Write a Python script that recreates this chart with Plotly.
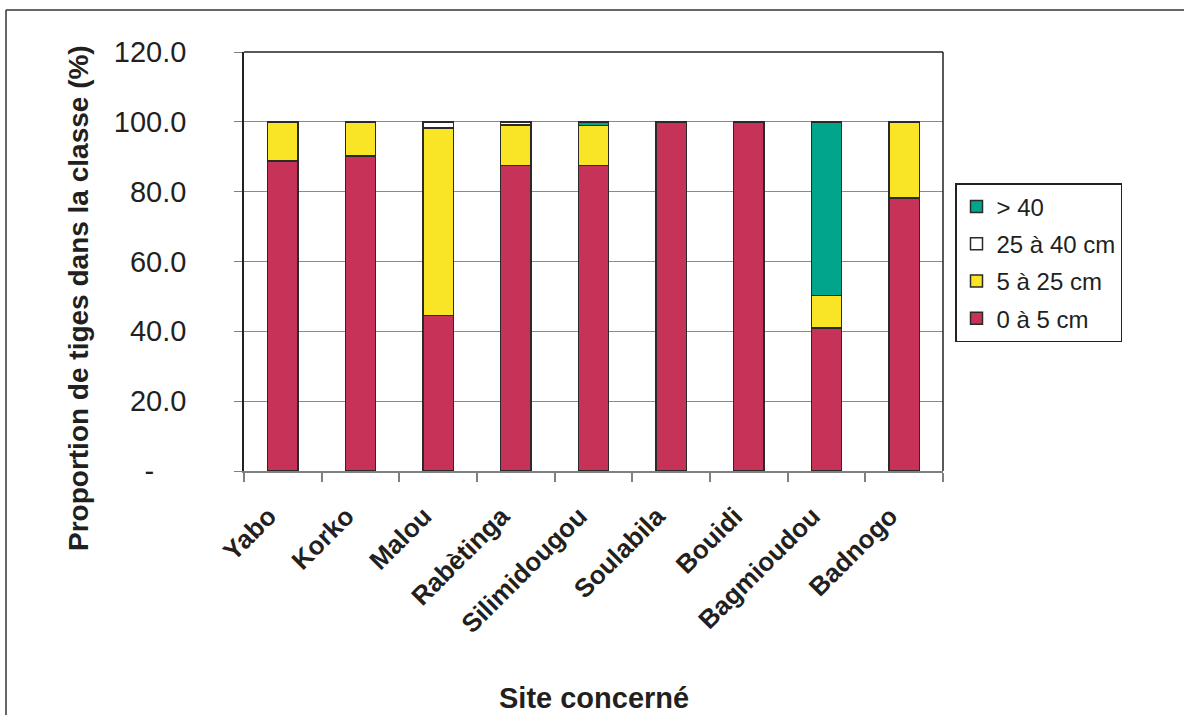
import plotly.graph_objects as go

# Sites and share of stems per diameter class (%)
sites = ["Yabo", "Korko", "Malou", "Rabètinga", "Silimidougou",
         "Soulabila", "Bouidi", "Bagmioudou", "Badnogo"]
class_0_5 = [88.8, 90.2, 44.5, 87.5, 87.5, 100.0, 100.0, 41.0, 78.2]
class_5_25 = [11.2, 9.8, 53.8, 11.6, 11.5, 0.0, 0.0, 9.3, 21.8]
class_25_40 = [0.0, 0.0, 1.7, 0.9, 0.0, 0.0, 0.0, 0.0, 0.0]
class_gt_40 = [0.0, 0.0, 0.0, 0.0, 1.0, 0.0, 0.0, 49.7, 0.0]

series_names = ["0 à 5 cm", "5 à 25 cm", "25 à 40 cm", "> 40"]
series_values = [class_0_5, class_5_25, class_25_40, class_gt_40]
series_colors = ["#C63258", "#F9E526", "#FFFFFF", "#00A58C"]

y_tickvals = [0, 20, 40, 60, 80, 100, 120]
y_ticktext = ["-\u00a0\u00a0\u00a0\u00a0", "20.0", "40.0", "60.0", "80.0", "100.0", "120.0"]

TXT = "#231F20"
FONT = "Liberation Sans, Arial, Helvetica, sans-serif"

W, H = 1184, 715
L, R, T, B = 244, 943, 52, 471   # plot area in pixels


def px_x(x):
    return (x - L) / (R - L)


def px_y(y):
    return (B - y) / (B - T)


fig = go.Figure()
n = len(series_names)
for i, (name, vals, col) in enumerate(zip(series_names, series_values, series_colors)):
    fig.add_trace(go.Bar(
        x=sites,
        y=[v if v > 0 else None for v in vals],
        name=name,
        legendgroup=f"g{i}",
        legendrank=n - i,
        marker=dict(color=col, line=dict(color="#2a2a2a", width=1.5)),
    ))

fig.update_layout(
    width=W, height=H,
    barmode="stack",
    bargap=0.61,
    plot_bgcolor="white",
    paper_bgcolor="white",
    margin=dict(l=L, r=W - R, t=T, b=H - B, autoexpand=False),
    font=dict(family=FONT, color=TXT),
    legend=dict(
        x=px_x(955), y=px_y(183), xanchor="left", yanchor="top",
        traceorder="grouped", tracegroupgap=3,
        bordercolor="#222222", borderwidth=1.5,
        font=dict(size=24, family=FONT, color=TXT),
        bgcolor="white",
    ),
    xaxis=dict(
        type="category",
        showline=True, linecolor="#808080", linewidth=1.5,
        ticks="outside", tickson="boundaries", ticklen=9, tickcolor="#808080", tickwidth=1.5,
        tickangle=-45,
        ticklabelstandoff=18, ticklabelshift=-14,
        tickfont=dict(size=26, family=FONT, color=TXT, weight="bold"),
        showgrid=False,
    ),
    yaxis=dict(
        range=[0, 120],
        tickvals=y_tickvals, ticktext=y_ticktext,
        showline=True, linecolor="#222222", linewidth=1.5,
        ticks="outside", ticklen=8, tickcolor="#808080", tickwidth=1,
        ticklabelstandoff=42,
        tickfont=dict(size=29, family=FONT, color=TXT),
        showgrid=True, gridcolor="#8a8a8a", gridwidth=1,
        zeroline=False,
    ),
    annotations=[
        dict(text="<b>Proportion de tiges dans la classe (%)</b>",
             xref="paper", yref="paper", x=px_x(78), y=px_y(298),
             xanchor="center", yanchor="middle", textangle=-90, showarrow=False,
             font=dict(size=28, family=FONT, color=TXT)),
        dict(text="<b>Site concerné</b>",
             xref="paper", yref="paper", x=px_x(594), y=px_y(698),
             xanchor="center", yanchor="middle", showarrow=False,
             font=dict(size=29, family=FONT, color=TXT)),
    ],
    shapes=[
        # plot-area border (top and right)
        dict(type="line", xref="paper", yref="paper", x0=0, x1=1, y0=1, y1=1,
             line=dict(color="#222222", width=1.5)),
        dict(type="line", xref="paper", yref="paper", x0=1, x1=1, y0=0, y1=1,
             line=dict(color="#222222", width=1.5)),
        # chart-area frame
        dict(type="line", xref="paper", yref="paper", x0=px_x(6), x1=px_x(1200),
             y0=px_y(10), y1=px_y(10), line=dict(color="#333333", width=1.5)),
        dict(type="line", xref="paper", yref="paper", x0=px_x(6), x1=px_x(6),
             y0=px_y(10), y1=px_y(730), line=dict(color="#333333", width=1.5)),
    ],
)

fig.write_html("out.html")
